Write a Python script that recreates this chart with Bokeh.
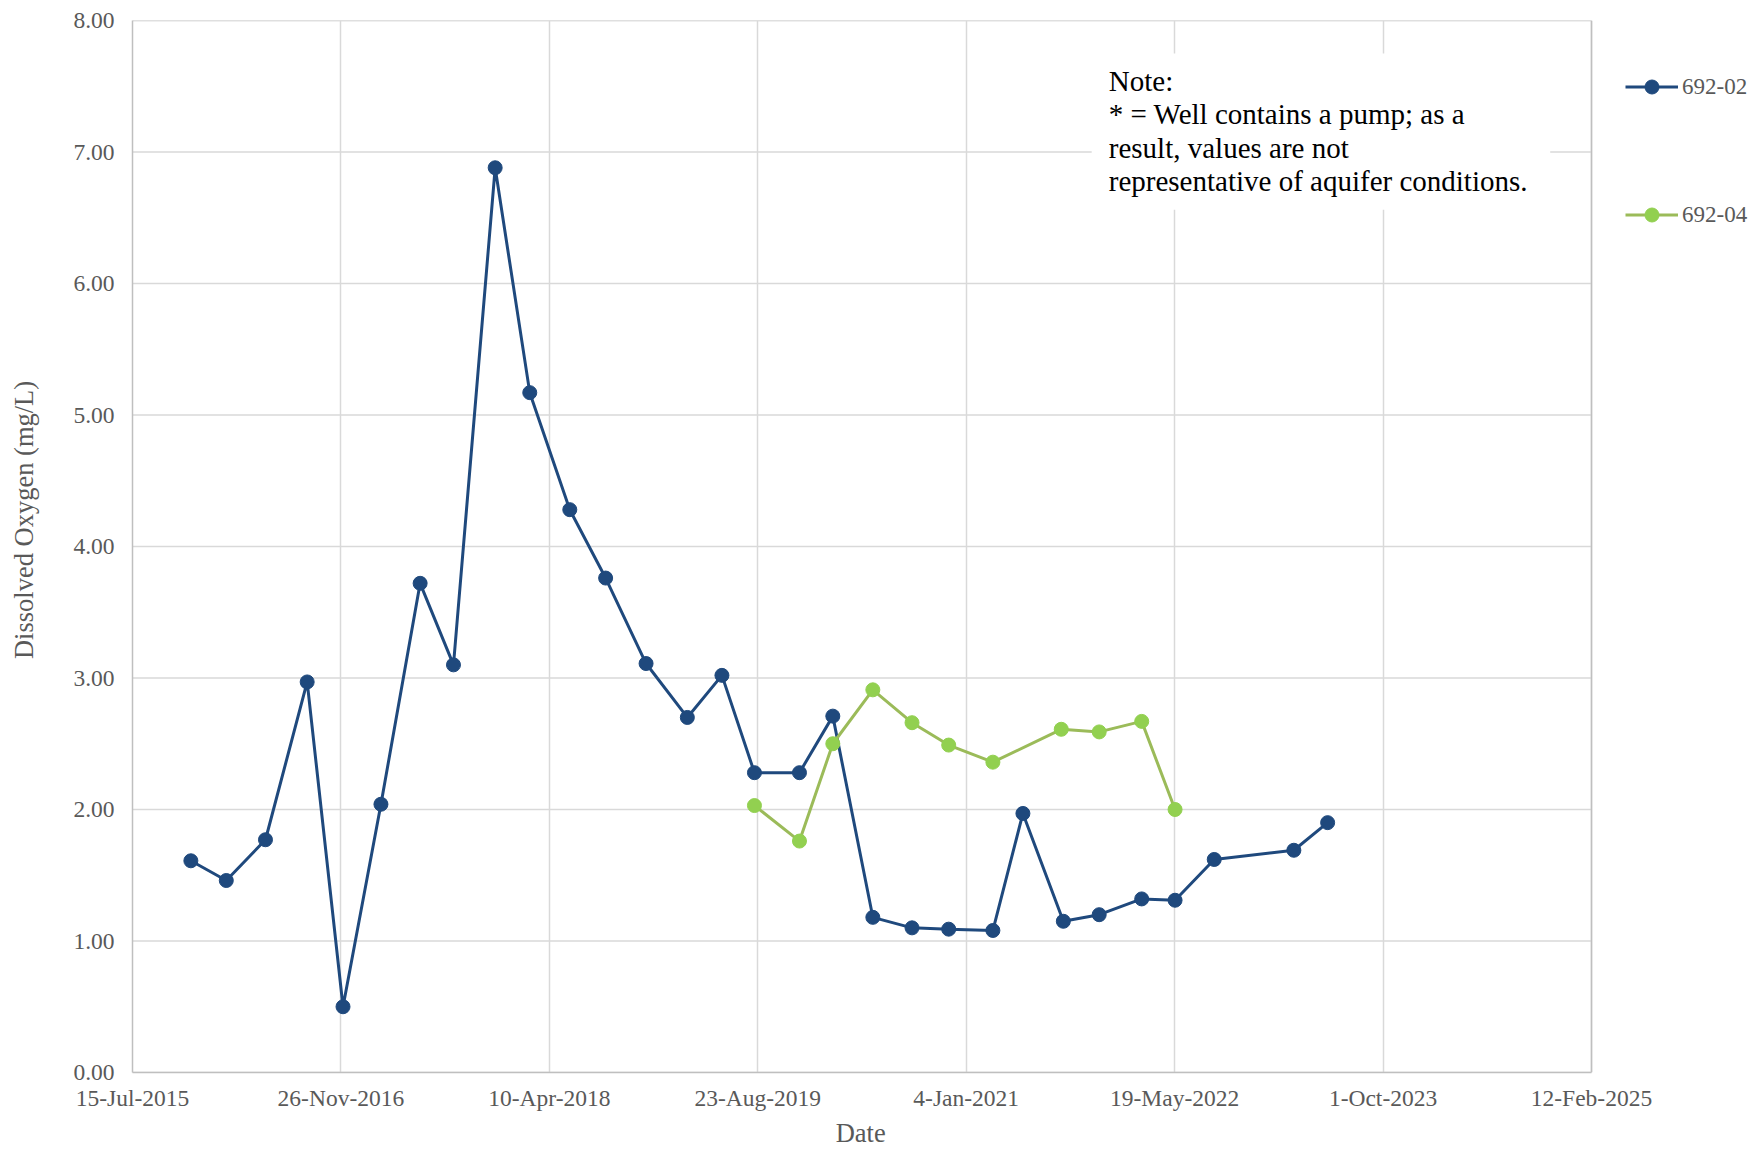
import pandas as pd
from bokeh.plotting import figure
from bokeh.models import (ColumnDataSource, FixedTicker, NumeralTickFormatter, Legend,
                          LegendItem, BoxAnnotation, Label, Range1d, Span)
from bokeh.embed import file_html
from bokeh.resources import INLINE

# ---------------- data ----------------
dates_692_02 = ["2015-12-02", "2016-02-25", "2016-05-29", "2016-09-06", "2016-12-01",
                "2017-03-02", "2017-06-04", "2017-08-23", "2017-12-01", "2018-02-22",
                "2018-05-29", "2018-08-23", "2018-11-28", "2019-03-07", "2019-05-29",
                "2019-08-15", "2019-12-01", "2020-02-19", "2020-05-25", "2020-08-27",
                "2020-11-23", "2021-03-09", "2021-05-20", "2021-08-25", "2021-11-19",
                "2022-03-01", "2022-05-20", "2022-08-22", "2023-03-01", "2023-05-21"]
do_692_02 = [1.61, 1.46, 1.77, 2.97, 0.50, 2.04, 3.72, 3.10, 6.88, 5.17,
             4.28, 3.76, 3.11, 2.70, 3.02, 2.28, 2.28, 2.71, 1.18, 1.10,
             1.09, 1.08, 1.97, 1.15, 1.20, 1.32, 1.31, 1.62, 1.69, 1.90]

dates_692_04 = ["2019-08-15", "2019-12-01", "2020-02-19", "2020-05-25", "2020-08-27",
                "2020-11-23", "2021-03-09", "2021-08-20", "2021-11-19", "2022-03-01",
                "2022-05-20"]
do_692_04 = [2.03, 1.76, 2.50, 2.91, 2.66, 2.49, 2.36, 2.61, 2.59, 2.67, 2.00]

series_names = ["692-02", "692-04"]

x_tick_dates = ["2015-07-15", "2016-11-26", "2018-04-10", "2019-08-23",
                "2021-01-04", "2022-05-19", "2023-10-01", "2025-02-12"]
x_tick_labels = ["15-Jul-2015", "26-Nov-2016", "10-Apr-2018", "23-Aug-2019",
                 "4-Jan-2021", "19-May-2022", "1-Oct-2023", "12-Feb-2025"]
y_ticks = [0, 1, 2, 3, 4, 5, 6, 7, 8]

x_title = "Date"
y_title = "Dissolved Oxygen (mg/L)"

note_lines = ["Note:",
              "* = Well contains a pump; as a",
              "result, values are not",
              "representative of aquifer conditions."]

# ---------------- styling / layout ----------------
FONT = "Liberation Serif"
GREY_TXT = "#595959"
BLUE = "#1F497D"
GREEN_LINE = "#9BBB59"
GREEN_MARK = "#92D050"
GRID = "#D9D9D9"
BORDER = "#BFBFBF"
NBSP = "\u00a0"

W, H = 1754, 1150
LEFT, TOP, BOTTOM = 132, 20, 78
PLOT_RIGHT = 1591          # right edge of the visible plot area (px)


def ms(d):
    return int(pd.Timestamp(d).timestamp() * 1000)


tick_ms = [ms(d) for d in x_tick_dates]
# the Bokeh frame extends to the canvas' right edge so that the legend is drawn
# inside it; the visible plot area ends at the last tick
frame_w = W - LEFT
plot_w = PLOT_RIGHT - LEFT
x_end = tick_ms[0] + (tick_ms[-1] - tick_ms[0]) * frame_w / plot_w

p = figure(width=W, height=H, x_axis_type="datetime",
           output_backend="svg", toolbar_location=None,
           x_range=Range1d(tick_ms[0], x_end),
           y_range=Range1d(y_ticks[0], y_ticks[-1]),
           min_border_left=LEFT, min_border_right=0,
           min_border_top=TOP, min_border_bottom=BOTTOM)

p.background_fill_color = "white"
p.border_fill_color = "white"
p.outline_line_color = None

# horizontal grid lines (limited to the plot area), top one is the border
grid_colors = [GRID] * (len(y_ticks) - 1) + [BORDER]
p.segment(x0=[tick_ms[0]] * len(y_ticks), x1=[tick_ms[-1]] * len(y_ticks),
          y0=y_ticks, y1=y_ticks, line_color=grid_colors, line_width=1.5,
          level="underlay")
p.ygrid.visible = False
p.xgrid.ticker = FixedTicker(ticks=tick_ms)
p.xgrid.grid_line_color = GRID
p.xgrid.grid_line_width = 1.5
p.add_layout(Span(location=tick_ms[-1], dimension="height", line_color=BORDER,
                  line_width=1.5, level="underlay"))

src02 = ColumnDataSource(dict(x=pd.to_datetime(dates_692_02), y=do_692_02))
src04 = ColumnDataSource(dict(x=pd.to_datetime(dates_692_04), y=do_692_04))

l02 = p.line("x", "y", source=src02, line_color=BLUE, line_width=3)
s02 = p.scatter("x", "y", source=src02, size=14, fill_color=BLUE, line_color=BLUE)
l04 = p.line("x", "y", source=src04, line_color=GREEN_LINE, line_width=3)
s04 = p.scatter("x", "y", source=src04, size=14, fill_color=GREEN_MARK, line_color=GREEN_MARK)

# axes
xa = p.xaxis[0]
xa.ticker = FixedTicker(ticks=tick_ms)
xa.bounds = (tick_ms[0], tick_ms[-1])
xa.major_label_overrides = {t: lab for t, lab in zip(tick_ms, x_tick_labels)}
ya = p.yaxis[0]
ya.ticker = FixedTicker(ticks=y_ticks)
ya.formatter = NumeralTickFormatter(format="0.00")

for ax in (xa, ya):
    ax.axis_line_color = BORDER
    ax.axis_line_width = 1.5
    ax.major_tick_line_color = None
    ax.minor_tick_line_color = None
    ax.major_tick_in = 0
    ax.major_tick_out = 0
    ax.minor_tick_in = 0
    ax.minor_tick_out = 0
    ax.major_label_text_font = FONT
    ax.major_label_text_font_size = "23.5px"
    ax.major_label_text_color = GREY_TXT
    ax.axis_label_text_font = FONT
    ax.axis_label_text_font_size = "26.5px"
    ax.axis_label_text_font_style = "normal"
    ax.axis_label_text_color = GREY_TXT

# the axis titles are centred on the Bokeh frame; non-breaking spaces shift them
# to the centre of the visible plot area, as in the original
xa.axis_label = x_title + NBSP * 25
xa.major_label_standoff = 12
xa.axis_label_standoff = 4
ya.axis_label = NBSP * 8 + y_title
ya.major_label_standoff = 18
ya.axis_label_standoff = 31

# note box
p.add_layout(BoxAnnotation(left=ms("2021-11-01"), right=ms("2024-11-05"),
                           bottom=6.56, top=7.75, fill_color="white", fill_alpha=1.0,
                           line_color=None))
note_x = ms("2021-12-12")
note_y = [7.540, 7.286, 7.031, 6.776]
for txt, yy in zip(note_lines, note_y):
    p.add_layout(Label(x=note_x, y=yy, text=txt, text_font=FONT,
                       text_font_size="29px", text_color="black",
                       text_baseline="alphabetic", text_align="left"))

# legend, to the right of the plot area
legend = Legend(items=[LegendItem(label=series_names[0], renderers=[l02, s02]),
                       LegendItem(label=series_names[1], renderers=[l04, s04])],
                location=(1493, 840), orientation="vertical",
                margin=0, padding=0, spacing=93,
                glyph_width=53, glyph_height=35, label_height=35,
                label_standoff=4,
                label_text_font=FONT, label_text_font_size="23px",
                label_text_color=GREY_TXT,
                border_line_color=None, background_fill_alpha=0)
p.add_layout(legend)

open("out.html", "w").write(file_html(p, INLINE))
